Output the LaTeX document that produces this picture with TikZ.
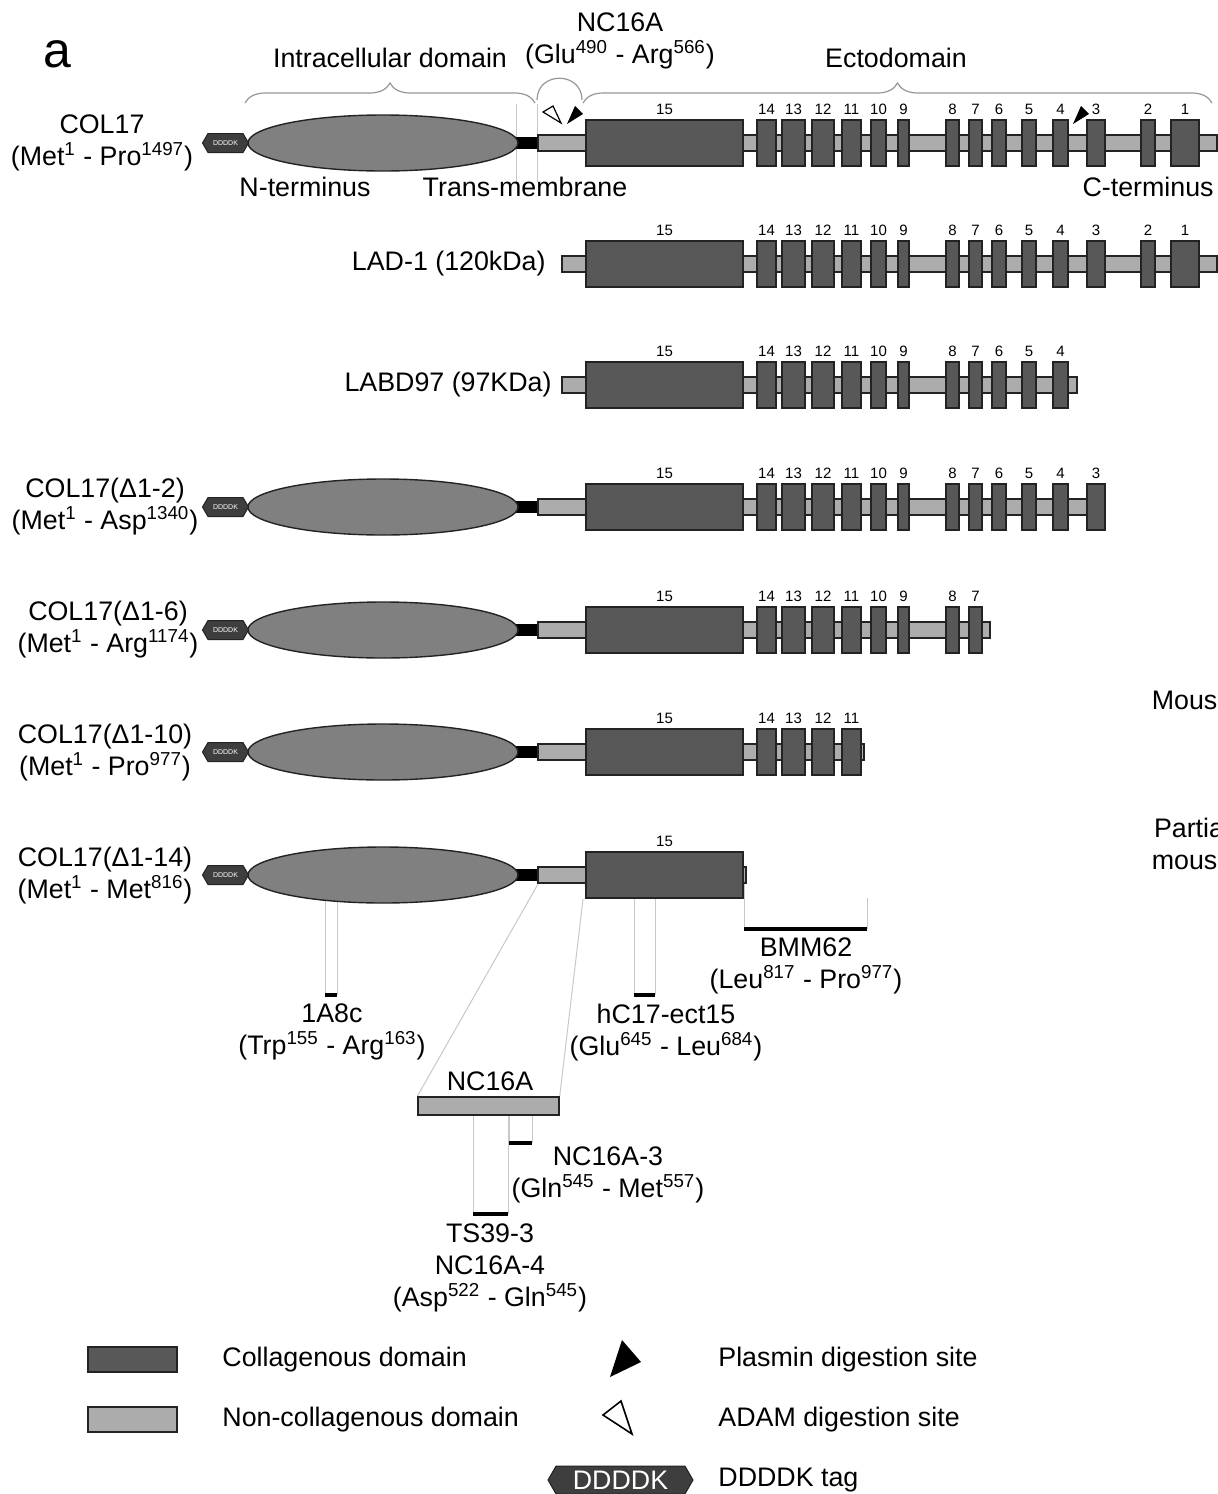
\documentclass[tikz,border=0pt]{standalone}
\usepackage{fontspec}
\setmainfont{Liberation Sans}
\usetikzlibrary{shapes.geometric,shapes.symbols,decorations.pathreplacing,backgrounds}
\definecolor{colldark}{RGB}{88,88,88}
\definecolor{ncgrey}{RGB}{172,172,172}
\definecolor{ellgrey}{RGB}{128,128,128}
\definecolor{lineedge}{RGB}{35,35,35}
\definecolor{tagdark}{RGB}{62,62,62}
\definecolor{guidegrey}{RGB}{200,200,200}
\definecolor{bracegrey}{RGB}{150,150,150}

% ectodomain of one row: y, bar start, bar end, last collagenous box
\newcommand{\ectorow}[4]{%
  \draw[ncbar] (#2,#1-8) rectangle (#3,#1+8);
  \foreach \n/\a/\b in {15/586/743,14/757/776,13/782/805,12/812/834,11/842/861,
      10/871/886,9/898/909,8/946/959,7/969/982,6/992/1006,5/1022/1036,
      4/1053/1068,3/1087/1105,2/1141/1155,1/1171/1199}{%
    \ifnum\n<#4\relax\else
      \draw[coll] (\a,#1-23) rectangle (\b,#1+23);
      \node[num] at ({(\a+\b)/2},#1-34) {\n};
    \fi}}
% intracellular part of one row: y, name
\newcommand{\intrarow}[2]{%
  \fill[tm] (512,#1-6) rectangle (538,#1+6);
  \node[ell] (ell#2) at (383,#1) {};
  \node[tag] (tag#2) at (225.5,#1) {DDDDK};}

\begin{document}
\begin{tikzpicture}[x=0.5pt, y=-0.5pt,
  lbl/.style={font=\fontsize{13.4}{16}\selectfont, align=center, inner sep=0pt},
  num/.style={font=\fontsize{7.5}{8}\selectfont, inner sep=0pt},
  coll/.style={draw=lineedge, fill=colldark, line width=0.7pt},
  ncbar/.style={draw=lineedge, fill=ncgrey, line width=0.7pt},
  tm/.style={fill=black},
  ell/.style={ellipse, draw=lineedge, fill=ellgrey, line width=0.7pt,
    minimum width=135pt, minimum height=28pt, inner sep=0pt},
  tag/.style={signal, signal to=west and east, signal pointer angle=120,
    draw=lineedge, fill=tagdark, text=white, line width=0.5pt,
    font=\fontsize{3.5}{4}\selectfont, minimum width=23pt, minimum height=9.5pt, inner sep=0pt},
  brc/.style={decorate, decoration={brace, amplitude=10pt}, draw=bracegrey, line width=0.6pt},
  guide/.style={draw=guidegrey, line width=0.5pt},
  epi/.style={draw=black, line width=1.6pt},
  plasmin/.style={fill=black},
  adam/.style={draw=black, fill=white, line width=0.6pt}
]
  \useasboundingbox (0,0) rectangle (1218,1494);

  % header
  \node[font=\fontsize{25}{25}\selectfont, inner sep=0pt] (panel) at (57,54) {a};
  \node[lbl] (intra) at (390,58) {Intracellular domain};
  \node[lbl] (nchead) at (620,41) {NC16A\\(Glu\textsuperscript{490} - Arg\textsuperscript{566})};
  \node[lbl] (ecto) at (896,58) {Ectodomain};
  \draw[brc] (245,103) -- (535,103);
  \draw[brc] (583,103) -- (1212,103);
  \draw[draw=bracegrey, line width=0.6pt] (537,100) .. controls (537,71) and (582,71) .. (582,100);
  \draw[guide] (516,104) -- (516,182);
  \draw[guide] (537,104) -- (537,182);

  % rows
  \intrarow{143}{1} \ectorow{143}{538}{1217}{1}
  \ectorow{264}{562}{1217}{1}
  \ectorow{385}{562}{1077}{4}
  \intrarow{507}{4} \ectorow{507}{538}{1103}{3}
  \intrarow{630}{5} \ectorow{630}{538}{990}{7}
  \intrarow{752}{6} \ectorow{752}{538}{864}{11}
  \intrarow{875}{7} \ectorow{875}{538}{746}{15}

  % digestion sites
  \draw[adam] (543,112) -- (553,106) -- (561,123) -- cycle;
  \fill[plasmin] (575,106) -- (583,114) -- (567,124) -- cycle;
  \fill[plasmin] (1081,106) -- (1089,114) -- (1073,124) -- cycle;

  % row labels
  \node[lbl] (lcol17) at (102,143) {COL17\\(Met\textsuperscript{1} - Pro\textsuperscript{1497})};
  \node[lbl, anchor=north] at (305,177) {N-terminus};
  \node[lbl, anchor=north] at (525,177) {Trans-membrane};
  \node[lbl, anchor=north east] at (1214,177) {C-terminus};
  \node[lbl, anchor=east] (llad) at (546,264) {LAD-1 (120kDa)};
  \node[lbl, anchor=east] (llabd) at (552,385) {LABD97 (97KDa)};
  \node[lbl] (ld2) at (105,507) {COL17(Δ1-2)\\(Met\textsuperscript{1} - Asp\textsuperscript{1340})};
  \node[lbl] (ld6) at (108,630) {COL17(Δ1-6)\\(Met\textsuperscript{1} - Arg\textsuperscript{1174})};
  \node[lbl] (ld10) at (105,753) {COL17(Δ1-10)\\(Met\textsuperscript{1} - Pro\textsuperscript{977})};
  \node[lbl] (ld14) at (105,876) {COL17(Δ1-14)\\(Met\textsuperscript{1} - Met\textsuperscript{816})};
  \node[lbl] (mouse) at (1192,700) {Mouse};
  \node[lbl] (partial) at (1192,844) {Partial\\mouse};

  % epitopes
  \coordinate (a8cL) at (325,995); \coordinate (a8cR) at (337,995);
  \coordinate (hcL) at (634,995);  \coordinate (hcR) at (655,995);
  \coordinate (bmmL) at (744,929); \coordinate (bmmR) at (867,929);
  \coordinate (bmmTop) at (867,898);
  \coordinate (tm7) at (538,884);  \coordinate (c15) at (583,899);
  \node[draw=lineedge, fill=ncgrey, line width=0.7pt, minimum width=70.5pt,
    minimum height=9pt, inner sep=0pt] (nc16a) at (488.5,1106) {};
  \coordinate (n3L) at (509,1143); \coordinate (n3R) at (532,1143);
  \coordinate (tsL) at (473,1214); \coordinate (tsR) at (508,1214);
  \begin{scope}[on background layer]
    \draw[guide] (a8cL) -- (a8cL |- ell7.center);
    \draw[guide] (a8cR) -- (a8cR |- ell7.center);
    \draw[guide] (hcL) -- (hcL |- ell7.center);
    \draw[guide] (hcR) -- (hcR |- ell7.center);
    \draw[guide] (bmmL) -- (bmmL |- ell7.center);
    \draw[guide] (bmmR) -- (bmmTop);
    \draw[guide] (tm7) -- (nc16a.north west);
    \draw[guide] (c15) -- (nc16a.north east);
    \draw[guide] (n3L) -- (n3L |- nc16a.south);
    \draw[guide] (n3R) -- (n3R |- nc16a.south);
    \draw[guide] (tsL) -- (tsL |- nc16a.south);
    \draw[guide] (tsR) -- (tsR |- nc16a.south);
  \end{scope}
  \draw[epi] (a8cL) -- (a8cR);
  \draw[epi] (hcL) -- (hcR);
  \draw[epi] (bmmL) -- (bmmR);
  \draw[epi] (n3L) -- (n3R);
  \draw[epi] (tsL) -- (tsR);
  \node[lbl] (l1a8c) at (332,1032) {1A8c\\(Trp\textsuperscript{155} - Arg\textsuperscript{163})};
  \node[lbl] (lhc) at (666,1033) {hC17-ect15\\(Glu\textsuperscript{645} - Leu\textsuperscript{684})};
  \node[lbl] (lbmm) at (806,966) {BMM62\\(Leu\textsuperscript{817} - Pro\textsuperscript{977})};
  \node[lbl] (lnc16a) at (490,1081) {NC16A};
  \node[lbl] (ln3) at (608,1175) {NC16A-3\\(Gln\textsuperscript{545} - Met\textsuperscript{557})};
  \node[lbl] (lts) at (490,1268) {TS39-3\\NC16A-4\\(Asp\textsuperscript{522} - Gln\textsuperscript{545})};

  % legend
  \draw[coll] (88,1347) rectangle (177,1372);
  \draw[ncbar] (88,1407) rectangle (177,1432);
  \node[lbl, anchor=west] (lgcoll) at (222,1360) {Collagenous domain};
  \node[lbl, anchor=west] (lgnc) at (222,1420) {Non-collagenous domain};
  \fill[plasmin] (622,1340) -- (641,1362) -- (610,1377) -- cycle;
  \draw[adam, line width=0.8pt] (603,1415) -- (621,1401) -- (632,1434) -- cycle;
  \node[lbl, anchor=west] (lgpl) at (718,1360) {Plasmin digestion site};
  \node[lbl, anchor=west] (lgad) at (718,1420) {ADAM digestion site};
  \node[tag, font=\fontsize{13.4}{16}\selectfont, minimum width=72.5pt, minimum height=14pt]
    (lgtag) at (620.5,1480) {DDDDK};
  \node[lbl, anchor=west] (lgtx) at (718,1480) {DDDDK tag};
\end{tikzpicture}
\end{document}
